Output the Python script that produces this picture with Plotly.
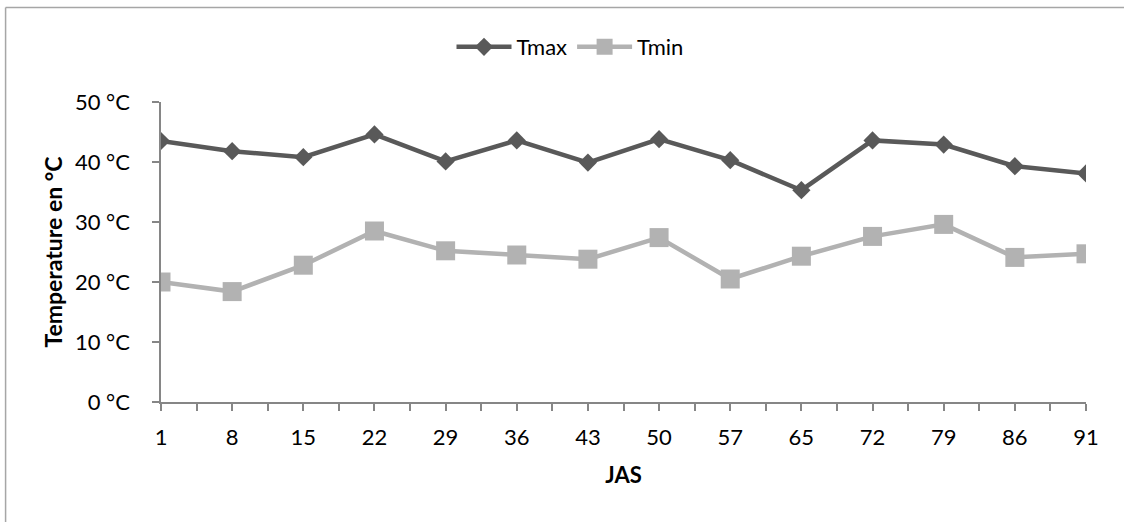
import plotly.graph_objects as go

categories = ["1", "8", "15", "22", "29", "36", "43", "50", "57", "65", "72", "79", "86", "91"]
tmax = [43.5, 41.8, 40.8, 44.6, 40.1, 43.6, 39.9, 43.8, 40.3, 35.3, 43.6, 42.9, 39.3, 38.1]
tmin = [20.0, 18.4, 22.8, 28.5, 25.2, 24.5, 23.8, 27.4, 20.5, 24.3, 27.6, 29.6, 24.1, 24.7]
ytick_vals = [0, 10, 20, 30, 40, 50]
ytick_text = [f"{v} °C" for v in ytick_vals]

W, H = 1124, 522
L, R, T, B = 160.5, 38, 101.7, 119.7
FONT = "Lato"
FS = 22

xpos = list(range(len(categories)))
tickvals = [i / 2 for i in range(2 * (len(categories) - 1) + 1)]
ticktext = [categories[int(v)] if v == int(v) else "" for v in tickvals]

fig = go.Figure()
fig.add_trace(go.Scatter(
    x=xpos, y=tmax, name="Tmax", mode="lines+markers",
    line=dict(color="#595959", width=4.5),
    marker=dict(symbol="diamond", size=14, color="#595959"),
))
fig.add_trace(go.Scatter(
    x=xpos, y=tmin, name="Tmin", mode="lines+markers",
    line=dict(color="#B2B2B2", width=4.5),
    marker=dict(symbol="square", size=19, color="#B2B2B2"),
))

pw = W - L - R
ph = H - T - B
# chart frame (top and left edges visible; right/bottom run off the picture)
fig.add_shape(type="line", xref="paper", yref="paper",
              x0=(5 - L) / pw, x1=(W + 50 - L) / pw,
              y0=(H - B - 7) / ph, y1=(H - B - 7) / ph,
              line=dict(color="#A6A6A6", width=1.5), layer="below")
fig.add_shape(type="line", xref="paper", yref="paper",
              x0=(5 - L) / pw, x1=(5 - L) / pw,
              y0=-(B + 50) / ph, y1=(H - B - 7) / ph,
              line=dict(color="#A6A6A6", width=1.5), layer="below")

fig.update_layout(
    width=W, height=H,
    margin=dict(l=L, r=R, t=T, b=B, pad=0),
    paper_bgcolor="white", plot_bgcolor="white",
    font=dict(family=FONT, size=FS, color="#000000"),
    showlegend=True,
    legend=dict(orientation="h", xref="container", yref="container",
                x=570 / W, xanchor="center", y=1 - 47 / H, yanchor="middle",
                font=dict(family=FONT, size=FS, color="#000000"),
                itemwidth=55, bgcolor="rgba(0,0,0,0)"),
    xaxis=dict(
        range=[0, len(categories) - 1], tickmode="array",
        tickvals=tickvals, ticktext=ticktext,
        showline=True, linecolor="#868686", linewidth=1.5,
        ticks="outside", ticklen=7, tickcolor="#868686", tickwidth=1.5,
        ticklabelstandoff=8,
        showgrid=False, zeroline=False,
        tickfont=dict(family=FONT, size=FS, color="#000000"),
        title=dict(text="<b>JAS</b>", font=dict(family=FONT, size=FS, color="#000000"), standoff=18),
    ),
    yaxis=dict(
        range=[0, 50], tickmode="array", tickvals=ytick_vals, ticktext=ytick_text,
        showline=True, linecolor="#868686", linewidth=1.5,
        ticks="outside", ticklen=7, tickcolor="#868686", tickwidth=1.5,
        ticklabelstandoff=18,
        showgrid=False, zeroline=False,
        tickfont=dict(family=FONT, size=FS, color="#000000"),
        title=dict(text="<b>Temperature en °C</b>", font=dict(family=FONT, size=23, color="#000000"), standoff=6),
    ),
)

fig.write_html("out.html", config={"displayModeBar": False},
               post_script="document.body.style.margin='0';document.body.style.overflow='hidden';")
